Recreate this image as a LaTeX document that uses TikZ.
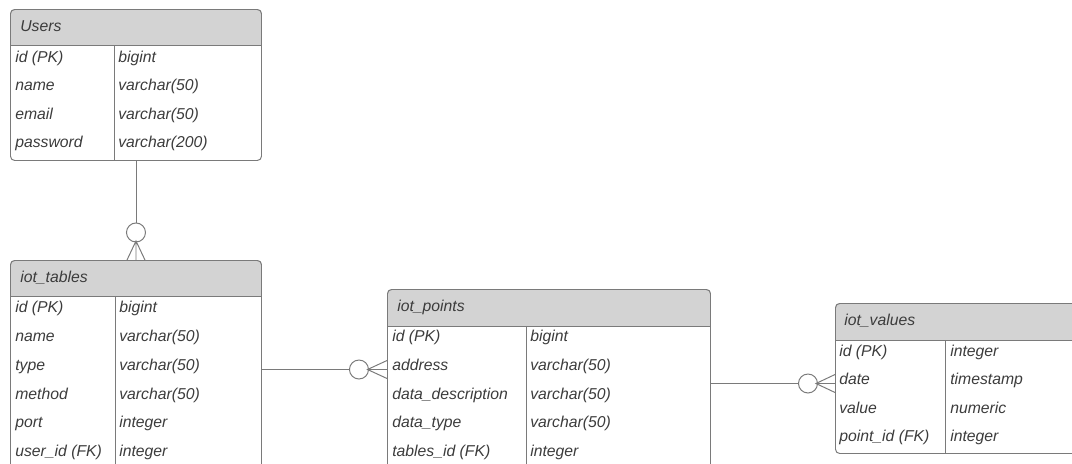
\documentclass[tikz,border=0pt]{standalone}
\usepackage{fontspec}
\setmainfont{Liberation Sans}
\usetikzlibrary{positioning,calc,backgrounds}
\definecolor{linegray}{HTML}{7A7A7A}
\definecolor{hdrgray}{HTML}{D3D3D3}
\definecolor{txtgray}{HTML}{3C3C3C}
\tikzset{
  tbl/.style={draw=linegray, line width=0.7pt, rounded corners=3pt, anchor=north west, inner sep=0pt},
  fld/.style={anchor=west, inner sep=0pt, text=txtgray, font=\fontsize{11.2}{13}\selectfont\itshape, text height=1.5ex, text depth=.25ex},
  conn/.style={draw=linegray, line width=0.7pt},
}
\begin{document}
\begin{tikzpicture}[x=0.025cm,y=-0.025cm]
\clip (0,0) rectangle (1072,463);
% table frames
\node[tbl, minimum width=251*0.025cm, minimum height=151*0.025cm] (users) at (10,9) {};
\node[tbl, minimum width=251*0.025cm, minimum height=218*0.025cm] (tables) at (10,260) {};
\node[tbl, minimum width=323*0.025cm, minimum height=188*0.025cm] (points) at (387,289) {};
\node[tbl, minimum width=245*0.025cm, minimum height=150*0.025cm] (values) at (835,303) {};
% header fill
\begin{scope}[on background layer]
\foreach \t/\h in {users/36.5,tables/36,points/37,values/37}{
  \fill[hdrgray, rounded corners=3pt] (\t.north west) rectangle ($(\t.north east)+(0,\h)$);
  \fill[hdrgray] ($(\t.north west)+(0,10)$) rectangle ($(\t.north east)+(0,\h)$);
}
\end{scope}
% header line and column line
\foreach \t/\h/\d in {users/36.5/104,tables/36/105,points/37/139,values/37/110}{
  \draw[conn] ($(\t.north west)+(0,\h)$) -- ($(\t.north east)+(0,\h)$);
  \draw[conn] ($(\t.north west)+(\d,\h)$) -- ($(\t.south west)+(\d,0)$);
}
% titles
\node[fld] (users-title) at (20,27) {Users};
\node[fld] (tables-title) at (20,278) {iot\_tables};
\node[fld] (points-title) at (397,307) {iot\_points};
\node[fld] (values-title) at (844,321) {iot\_values};
% fields
\foreach \n/\ty [count=\i] in {id (PK)/bigint, name/varchar(50), email/varchar(50), password/varchar(200)}{
  \node[fld] (users-n\i) at (15,{57.5+(\i-1)*28.5}) {\n};
  \node[fld] (users-t\i) at (118,{57.5+(\i-1)*28.5}) {\ty};
}
\foreach \n/\ty [count=\i] in {id (PK)/bigint, name/varchar(50), type/varchar(50), method/varchar(50), port/integer, user\_id (FK)/integer}{
  \node[fld] (tables-n\i) at (15,{308+(\i-1)*28.8}) {\n};
  \node[fld] (tables-t\i) at (119,{308+(\i-1)*28.8}) {\ty};
}
\foreach \n/\ty [count=\i] in {id (PK)/bigint, address/varchar(50), data\_description/varchar(50), data\_type/varchar(50), tables\_id (FK)/integer}{
  \node[fld] (points-n\i) at (392,{337+(\i-1)*28.75}) {\n};
  \node[fld] (points-t\i) at (530,{337+(\i-1)*28.75}) {\ty};
}
\foreach \n/\ty [count=\i] in {id (PK)/integer, date/timestamp, value/numeric, point\_id (FK)/integer}{
  \node[fld] (values-n\i) at (839,{352+(\i-1)*28.3}) {\n};
  \node[fld] (values-t\i) at (950,{352+(\i-1)*28.3}) {\ty};
}
% users -> iot_tables
\draw[conn] (users.south) -- ++(0,62) coordinate (o1);
\draw[conn] (o1) ++(0,9.5) circle[radius=9.5];
\coordinate (f1) at (tables.north);
\draw[conn] ($(f1)+(-9,0)$) -- ($(f1)+(0,-19)$) -- ($(f1)+(9,0)$) ($(f1)+(0,-19)$) -- (f1);
% iot_tables -> iot_points
\draw[conn] (tables.east) -- ++(87.5,0) coordinate (o2);
\draw[conn] (o2) ++(9.5,0) circle[radius=9.5];
\coordinate (f2) at (tables.east -| points.west);
\draw[conn] ($(f2)+(0,-9)$) -- ($(f2)+(-19.5,0)$) -- ($(f2)+(0,9)$) ($(f2)+(-19.5,0)$) -- (f2);
% iot_points -> iot_values
\draw[conn] (points.east) -- ++(87.5,0) coordinate (o3);
\draw[conn] (o3) ++(9.5,0) circle[radius=9.5];
\coordinate (f3) at (points.east -| values.west);
\draw[conn] ($(f3)+(0,-9)$) -- ($(f3)+(-19,0)$) -- ($(f3)+(0,9)$) ($(f3)+(-19,0)$) -- (f3);
\end{tikzpicture}
\end{document}
